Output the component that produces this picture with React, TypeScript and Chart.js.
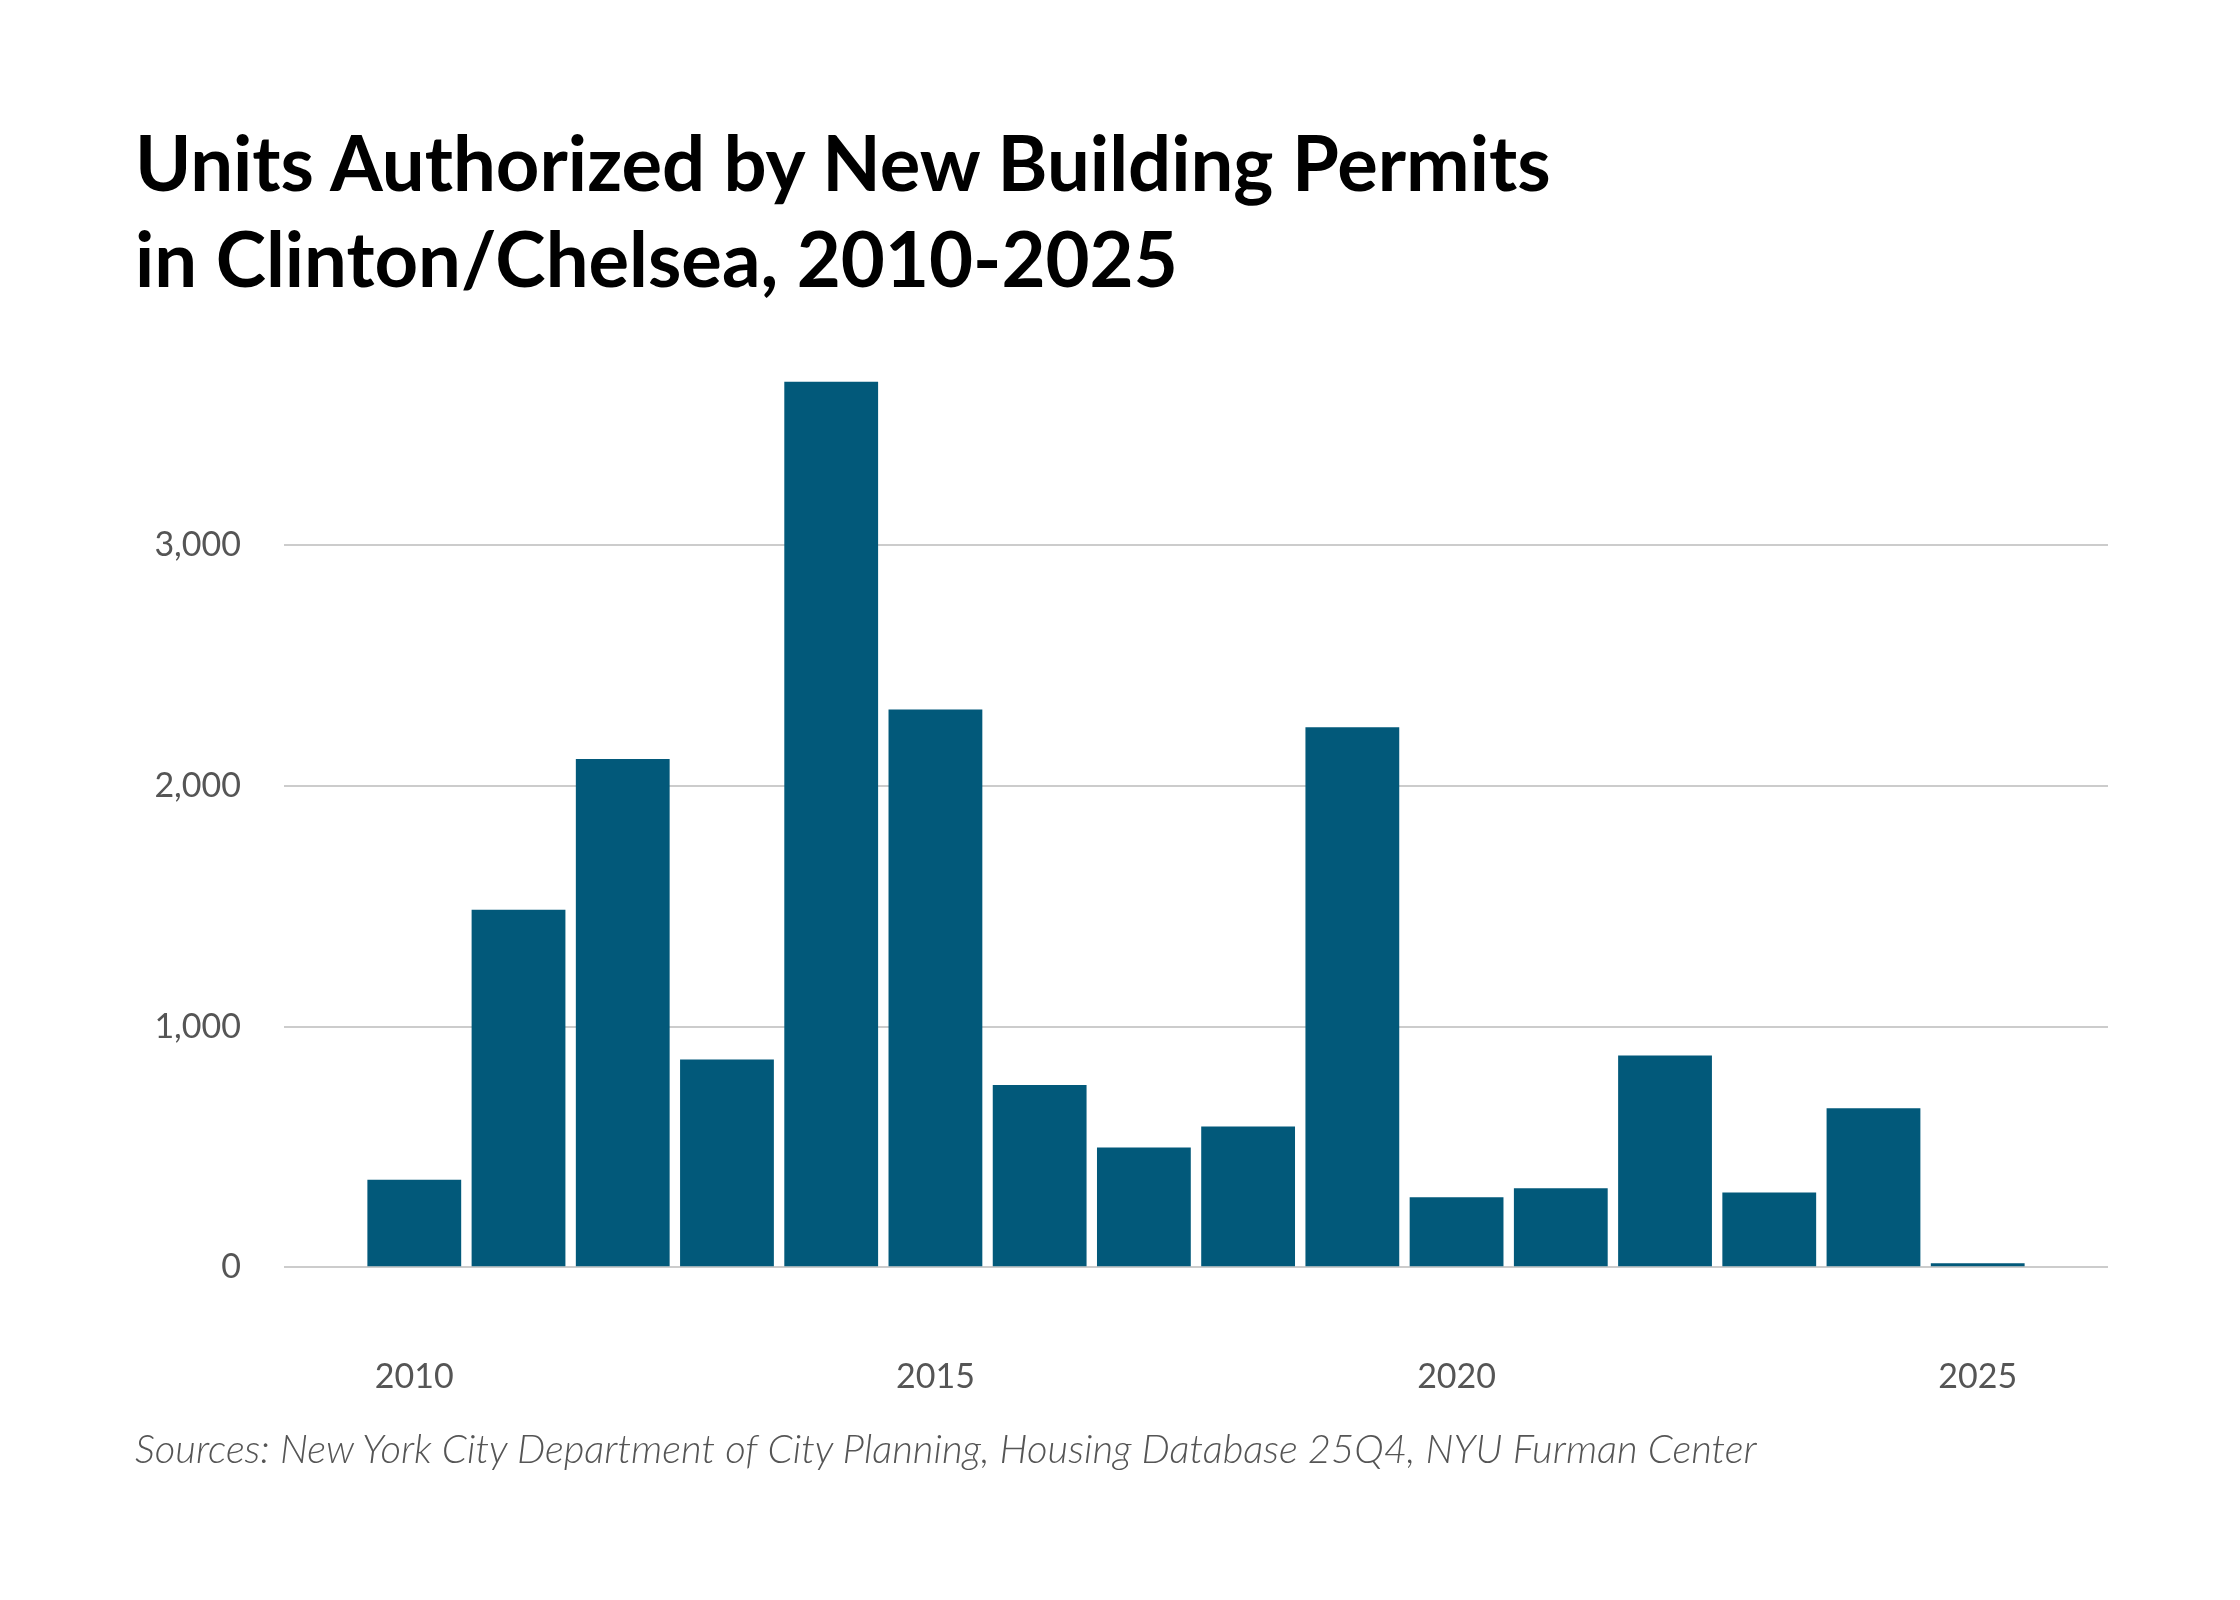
import { useEffect, useRef } from "react";
import { Chart, registerables } from "chart.js";

Chart.register(...registerables);

// Units authorized by new building permits, Clinton/Chelsea
const years = [2010, 2011, 2012, 2013, 2014, 2015, 2016, 2017, 2018, 2019, 2020, 2021, 2022, 2023, 2024, 2025];
const units = [364, 1486, 2112, 863, 3680, 2318, 757, 498, 585, 2244, 291, 328, 880, 311, 661, 16];

const xTickYears = [2010, 2015, 2020, 2025];
const yTickValues = [0, 1000, 2000, 3000];

const barColor = "#02597a";
const tickColor = "#555555";
const gridColor = "#cccccc";

export default function App() {
  const chartRef = useRef<HTMLCanvasElement | null>(null);
  const chartInstance = useRef<Chart | null>(null);

  useEffect(() => {
    if (!chartRef.current) return;
    if (chartInstance.current) chartInstance.current.destroy();

    const ctx = chartRef.current.getContext("2d");
    if (!ctx) return;

    chartInstance.current = new Chart(ctx, {
      type: "bar",
      data: {
        datasets: [
          {
            label: "Units",
            data: years.map((y, i) => ({ x: y, y: units[i] })),
            backgroundColor: barColor,
            borderWidth: 0,
            barPercentage: 0.9,
            categoryPercentage: 1
          }
        ]
      },
      options: {
        animation: false,
        responsive: false,
        devicePixelRatio: 1,
        layout: {
          padding: { top: 365, left: 135, right: 132, bottom: 114 }
        },
        plugins: {
          legend: { display: false },
          tooltip: { enabled: false }
        },
        scales: {
          x: {
            type: "linear",
            offset: false,
            min: 2008.75,
            max: 2026.25,
            afterBuildTicks: (axis) => {
              axis.ticks = xTickYears.map((v) => ({ value: v }));
            },
            grid: { display: false, drawTicks: false, offset: false },
            border: { display: false },
            ticks: {
              padding: 89,
              color: tickColor,
              font: { family: "Lato", size: 34 },
              callback: (v) => String(v),
              maxRotation: 0,
              autoSkip: false
            }
          },
          y: {
            min: 0,
            max: 3750,
            afterBuildTicks: (axis) => {
              axis.ticks = yTickValues.map((v) => ({ value: v }));
            },
            afterFit: (axis) => {
              axis.width = 149;
            },
            grid: { color: gridColor, lineWidth: 2, drawTicks: false },
            border: { display: false },
            ticks: {
              padding: 43,
              color: tickColor,
              font: { family: "Lato", size: 34 },
              callback: (v) => Number(v).toLocaleString("en-US")
            }
          }
        }
      }
    });

    return () => {
      if (chartInstance.current) {
        chartInstance.current.destroy();
        chartInstance.current = null;
      }
    };
  }, []);

  return (
    <div style={{ position: "fixed", left: 0, top: 0, width: 2240, height: 1600, background: "#fff" }}>
      <canvas ref={chartRef} width={2240} height={1600} style={{ position: "absolute", left: 0, top: 0 }} />
      <div
        style={{
          position: "absolute",
          left: 135,
          top: 114,
          fontFamily: "Lato",
          fontWeight: 700,
          fontSize: 76,
          lineHeight: "96px",
          color: "#000",
          whiteSpace: "nowrap"
        }}
      >
        Units Authorized by New Building Permits
        <br />
        in Clinton/Chelsea, 2010-2025
      </div>
      <div
        style={{
          position: "absolute",
          left: 135,
          top: 1430,
          fontFamily: "Lato",
          fontStyle: "italic",
          fontWeight: 300,
          fontSize: 40,
          lineHeight: "36px",
          color: "#555",
          whiteSpace: "nowrap"
        }}
      >
        Sources: New York City Department of City Planning, Housing Database 25Q4, NYU Furman Center
      </div>
    </div>
  );
}
